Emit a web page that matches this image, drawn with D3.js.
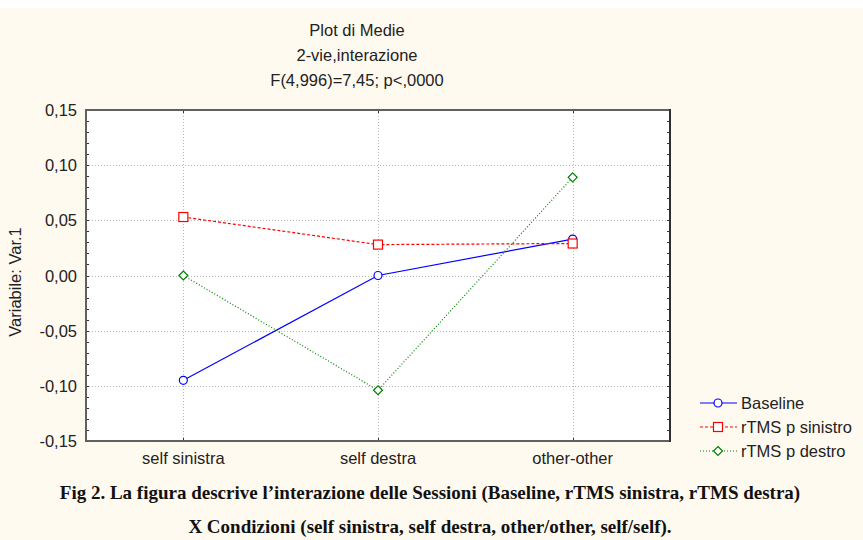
<!DOCTYPE html>
<html><head><meta charset="utf-8">
<script src="https://cdn.jsdelivr.net/npm/d3@7/dist/d3.min.js"></script>
<style>body{margin:0;background:#fffaf0;}svg{display:block;}</style>
</head><body>
<svg id="c" width="863" height="540"></svg>
<script>
const categories = ["self sinistra", "self destra", "other-other"];
const seriesNames = ["Baseline", "rTMS p sinistro", "rTMS p destro"];
const baseline = [-0.095, 0.000, 0.033];
const rtmsSinistro = [0.053, 0.028, 0.029];
const rtmsDestro = [0.000, -0.104, 0.089];
const yTicks = [0.15, 0.10, 0.05, 0.00, -0.05, -0.10, -0.15];
const titleLines = ["Plot di Medie", "2-vie,interazione", "F(4,996)=7,45; p<,0000"];
const captionLines = ["Fig 2. La figura descrive l\u2019interazione delle Sessioni (Baseline, rTMS sinistra, rTMS destra)",
  "X Condizioni (self sinistra, self destra, other/other, self/self)."];

const FS = 16.5;
const SANS = "Liberation Sans, Arial, sans-serif";
const svg = d3.select("#c");
const L = 86, R = 670, T = 110, B = 441;
svg.append("rect").attr("x",0).attr("y",0).attr("width",863).attr("height",8).attr("fill","#ffffff");
svg.append("rect").attr("x",0).attr("y",8).attr("width",863).attr("height",532).attr("fill","#fffaf0");

const x = d3.scalePoint().domain(categories).range([L, R]).padding(0.5);
const y = d3.scaleLinear().domain([-0.15, 0.15]).range([B, T]);

svg.append("rect").attr("x",L).attr("y",T).attr("width",R-L).attr("height",B-T).attr("fill","#ffffff");

// grid
const g = svg.append("g");
g.selectAll(".hg").data(yTicks.filter(v => v > -0.149 && v < 0.149)).join("line")
  .attr("x1",L).attr("x2",R).attr("y1",d=>Math.round(y(d))+0.5).attr("y2",d=>Math.round(y(d))+0.5)
  .attr("stroke","#b8b8b8").attr("stroke-dasharray","1,2");
g.selectAll(".vg").data(categories).join("line")
  .attr("x1",d=>Math.round(x(d))+0.5).attr("x2",d=>Math.round(x(d))+0.5).attr("y1",T).attr("y2",B)
  .attr("stroke","#b8b8b8").attr("stroke-dasharray","1,2");

// minor ticks on left and right inside
const minor = d3.range(-15, 16).map(i => i/100);
svg.append("g").selectAll("line").data(minor).join("line")
  .attr("x1",L).attr("x2",L+3).attr("y1",d=>Math.round(y(d))+0.5).attr("y2",d=>Math.round(y(d))+0.5)
  .attr("stroke","#333");
svg.append("g").selectAll("line").data(minor).join("line")
  .attr("x1",R-3).attr("x2",R).attr("y1",d=>Math.round(y(d))+0.5).attr("y2",d=>Math.round(y(d))+0.5)
  .attr("stroke","#333");
// category ticks top and bottom
svg.append("g").selectAll("line").data(categories).join("line")
  .attr("x1",d=>Math.round(x(d))+0.5).attr("x2",d=>Math.round(x(d))+0.5).attr("y1",B-3).attr("y2",B).attr("stroke","#333");
svg.append("g").selectAll("line").data(categories).join("line")
  .attr("x1",d=>Math.round(x(d))+0.5).attr("x2",d=>Math.round(x(d))+0.5).attr("y1",T).attr("y2",T+3).attr("stroke","#333");

// frame
svg.append("line").attr("x1",L).attr("x2",R).attr("y1",T).attr("y2",T).attr("stroke","#606060").attr("stroke-width",2);
svg.append("line").attr("x1",L).attr("x2",R).attr("y1",B).attr("y2",B).attr("stroke","#606060").attr("stroke-width",2);
svg.append("line").attr("x1",L).attr("x2",L).attr("y1",T-1).attr("y2",B+1).attr("stroke","#606060").attr("stroke-width",2);
svg.append("line").attr("x1",R).attr("x2",R).attr("y1",T-1).attr("y2",B+1).attr("stroke","#303030").attr("stroke-width",2);

// y axis labels
const fmt = v => d3.format(".2f")(v).replace(".", ",").replace("\u2212","-");
svg.append("g").selectAll("text").data(yTicks).join("text")
  .attr("x",77).attr("y",d=>y(d)+6).attr("text-anchor","end")
  .attr("font-family",SANS).attr("font-size",FS).attr("fill","#222")
  .text(d => fmt(d));
svg.append("text").attr("transform","translate(21,282) rotate(-90)").attr("text-anchor","middle")
  .attr("font-family",SANS).attr("font-size",FS).attr("fill","#222")
  .text("Variabile: Var.1");

// x labels
svg.append("g").selectAll("text").data(categories).join("text")
  .attr("x",d=>x(d)).attr("y",464).attr("text-anchor","middle")
  .attr("font-family",SANS).attr("font-size",FS).attr("fill","#222")
  .text(d=>d);

// titles
svg.append("g").selectAll("text").data(titleLines).join("text")
  .attr("x",357).attr("y",(d,i)=>36+i*25).attr("text-anchor","middle")
  .attr("font-family",SANS).attr("font-size",FS).attr("fill","#222")
  .text(d=>d);

// series
const series = [
  {name: seriesNames[0], values: baseline, color: "#0000ff", dash: null, shape: "circle"},
  {name: seriesNames[1], values: rtmsSinistro, color: "#ff0000", dash: "3,2", shape: "square"},
  {name: seriesNames[2], values: rtmsDestro, color: "#008000", dash: "1,2", shape: "diamond"}
];
const line = d3.line().x((d,i)=>x(categories[i])).y(d=>y(d));
function marker(sel, shape, color, cx, cy) {
  if (shape === "circle") sel.append("circle").attr("cx",cx).attr("cy",cy).attr("r",4)
      .attr("fill","#fff").attr("stroke",color).attr("stroke-width",1.2);
  else if (shape === "square") sel.append("rect").attr("x",cx-4.5).attr("y",cy-4.5).attr("width",9).attr("height",9)
      .attr("fill","#fff").attr("stroke",color).attr("stroke-width",1.2);
  else sel.append("path").attr("d",`M${cx},${cy-4.5}L${cx+4.5},${cy}L${cx},${cy+4.5}L${cx-4.5},${cy}Z`)
      .attr("fill","#fff").attr("stroke",color).attr("stroke-width",1.2);
}
series.forEach(s => {
  svg.append("path").datum(s.values).attr("d",line).attr("fill","none")
    .attr("stroke",s.color).attr("stroke-width",1.2).attr("stroke-dasharray",s.dash);
});
series.forEach(s => {
  const gg = svg.append("g");
  s.values.forEach((v,i) => marker(gg, s.shape, s.color, x(categories[i]), y(v)));
});

// legend
series.forEach((s,i) => {
  const ly = 403 + i*24;
  const lg = svg.append("g");
  lg.append("line").attr("x1",700).attr("x2",737).attr("y1",ly).attr("y2",ly)
    .attr("stroke",s.color).attr("stroke-width",1.2).attr("stroke-dasharray",s.dash);
  marker(lg, s.shape, s.color, 718, ly);
  lg.append("text").attr("x",741).attr("y",ly+6)
    .attr("font-family",SANS).attr("font-size",FS).attr("fill","#222")
    .text(s.name);
});

// caption
svg.append("g").selectAll("text").data(captionLines).join("text")
  .attr("x",430).attr("y",(d,i)=>499+i*34).attr("text-anchor","middle")
  .attr("font-family","Liberation Serif, Times New Roman, serif").attr("font-size",19).attr("font-weight","bold").attr("fill","#111")
  .text(d=>d);
</script>
</body></html>
